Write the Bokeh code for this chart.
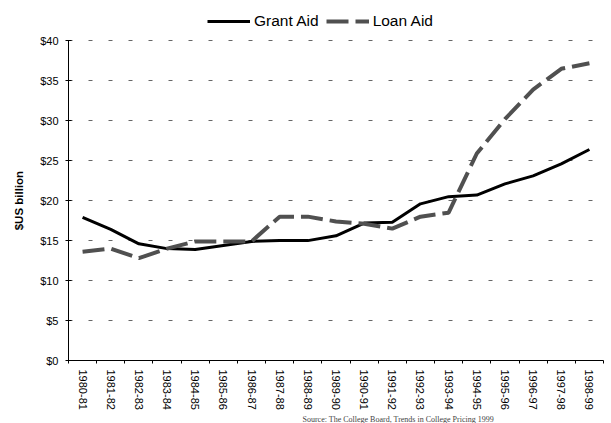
from bokeh.plotting import figure
from bokeh.models import (Range1d, FixedTicker, NumeralTickFormatter, Legend,
                          LegendItem, Title)
from bokeh.embed import file_html
from bokeh.resources import INLINE

# Academic years (x axis)
years = ["1980-81", "1981-82", "1982-83", "1983-84", "1984-85", "1985-86",
         "1986-87", "1987-88", "1988-89", "1989-90", "1990-91", "1991-92",
         "1992-93", "1993-94", "1994-95", "1995-96", "1996-97", "1997-98",
         "1998-99"]

# Aid totals, $US billion
grant_aid = [17.9, 16.4, 14.6, 14.0, 13.9, 14.4, 14.9, 15.0, 15.0, 15.6,
             17.2, 17.3, 19.6, 20.5, 20.7, 22.1, 23.1, 24.6, 26.4]
loan_aid = [13.6, 14.0, 12.8, 14.0, 14.9, 14.9, 14.9, 18.0, 18.0, 17.4,
            17.1, 16.5, 18.0, 18.5, 25.9, 30.2, 33.9, 36.5, 37.2]

y_ticks = [0, 5, 10, 15, 20, 25, 30, 35, 40]
y_title = "$US billion"
source_note = "Source: The College Board, Trends in College Pricing 1999"

FONT = "Liberation Sans"
xs = list(range(len(years)))

# The frame reaches up to the legend row; the axis itself stops at $40.
p = figure(width=611, height=423, x_range=Range1d(-0.5, len(years) - 0.5),
           y_range=Range1d(0, 44.42), output_backend="svg",
           toolbar_location=None, min_border_left=68, min_border_right=8,
           min_border_top=5, min_border_bottom=62)
p.outline_line_color = None
p.background_fill_color = "white"

# Lines
r_grant = p.line(xs, grant_aid, line_color="black", line_width=3)
r_loan = p.line(xs, loan_aid, line_color="#505050", line_width=4,
                line_dash="22 7")

# Grid
p.xgrid.grid_line_color = None
p.ygrid.ticker = FixedTicker(ticks=y_ticks)
p.ygrid.grid_line_color = "#666666"
p.ygrid.grid_line_width = 1
p.ygrid.grid_line_dash = "4 16"

# X axis: labels centred on each year, tick marks between years
xa = p.xaxis[0]
xa.ticker = FixedTicker(ticks=xs,
                        minor_ticks=[i - 0.5 for i in range(len(years) + 1)])
xa.major_label_overrides = {i: y for i, y in enumerate(years)}
xa.major_label_orientation = "vertical"
xa.major_tick_out = 0
xa.major_tick_in = 0
xa.minor_tick_out = 3
xa.minor_tick_in = 0
xa.minor_tick_line_color = "black"
xa.major_label_standoff = 6
xa.major_label_text_font = FONT
xa.major_label_text_font_size = "11px"
xa.major_label_text_color = "black"
xa.axis_line_color = "black"

# Y axis
ya = p.yaxis[0]
ya.bounds = (0, 40)
ya.ticker = FixedTicker(ticks=y_ticks)
ya.formatter = NumeralTickFormatter(format="$0")
ya.major_tick_out = 3
ya.major_tick_in = 3
ya.minor_tick_out = 0
ya.minor_tick_in = 0
ya.major_tick_line_color = "black"
ya.axis_line_color = "black"
ya.major_label_standoff = 7
ya.major_label_text_font = FONT
ya.major_label_text_font_size = "11px"
ya.major_label_text_color = "black"
# trailing no-break spaces centre the title on the $0-$40 span, not the frame
ya.axis_label = y_title + "\u00a0" * 11
ya.axis_label_text_font = FONT
ya.axis_label_text_font_size = "11.5px"
ya.axis_label_text_font_style = "bold"
ya.axis_label_text_color = "black"
ya.axis_label_standoff = 12

# Legend across the top
legend = Legend(items=[LegendItem(label="Grant Aid", renderers=[r_grant]),
                       LegendItem(label="Loan Aid", renderers=[r_loan])],
                location=(139, 329), orientation="horizontal",
                glyph_width=43, glyph_height=20, label_standoff=4, spacing=7,
                padding=0, margin=0, border_line_color=None,
                background_fill_alpha=0, label_text_font=FONT,
                label_text_font_size="15.5px", label_text_color="black")
p.add_layout(legend)

# Source note under the axis labels
p.add_layout(Title(text=source_note, align="left", offset=234, standoff=0,
                   text_font="Liberation Serif", text_font_size="8px",
                   text_font_style="normal", text_color="#444444"), "below")

open("out.html", "w").write(file_html(p, INLINE))
